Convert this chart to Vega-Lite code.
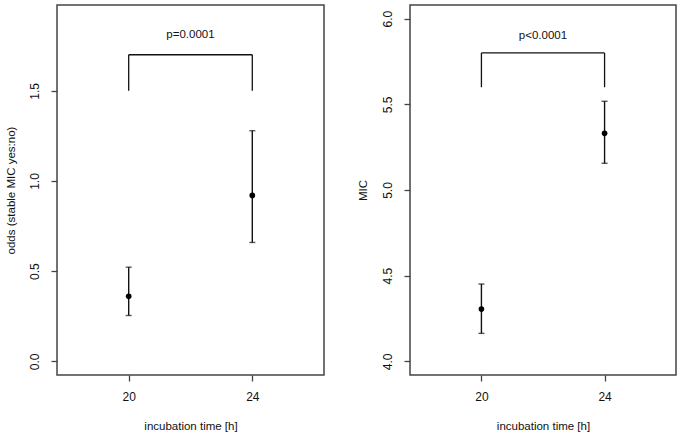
{
  "$schema": "https://vega.github.io/schema/vega-lite/v6.json",
  "padding": {"left": 4, "top": 4, "right": 5, "bottom": 0},
  "background": "white",
  "bounds": "flush",
  "spacing": 86,
  "config": {
    "view": {"stroke": "#444444", "strokeWidth": 1.5},
    "font": "Liberation Sans",
    "axis": {
      "grid": false, "domain": false,
      "labelFont": "Liberation Sans", "labelFontSize": 12, "labelColor": "#111111",
      "titleFont": "Liberation Sans", "titleFontSize": 11.5, "titleFontWeight": "normal", "titleColor": "#111111",
      "tickColor": "#444444", "tickSize": 6, "tickWidth": 1.3
    },
    "axisX": {"labelPadding": 10, "titleY": 54, "titleBaseline": "alphabetic"},
    "axisY": {"labelAngle": -90, "labelAlign": "center", "labelBaseline": "alphabetic", "labelPadding": 12.5, "titleAngle": -90, "titleBaseline": "middle", "titleAlign": "center", "titleY": 185}
  },
  "datasets": {
    "odds": [
      {"time": 20, "est": 0.361, "lo": 0.254, "hi": 0.522},
      {"time": 24, "est": 0.92, "lo": 0.659, "hi": 1.279}
    ],
    "mic": [
      {"time": 20, "est": 4.305, "lo": 4.163, "hi": 4.451},
      {"time": 24, "est": 5.331, "lo": 5.156, "hi": 5.518}
    ],
    "oddsBracket": [
      {"x": 20, "x2": 20, "y": 1.5, "y2": 1.7},
      {"x": 24, "x2": 24, "y": 1.5, "y2": 1.7},
      {"x": 20, "x2": 24, "y": 1.7, "y2": 1.7}
    ],
    "micBracket": [
      {"x": 20, "x2": 20, "y": 5.6, "y2": 5.8},
      {"x": 24, "x2": 24, "y": 5.6, "y2": 5.8},
      {"x": 20, "x2": 24, "y": 5.8, "y2": 5.8}
    ],
    "oddsLabel": [{"x": 22, "y": 1.81, "label": "p=0.0001"}],
    "micLabel": [{"x": 22, "y": 5.9, "label": "p<0.0001"}]
  },
  "hconcat": [
    {
      "width": 267, "height": 370,
      "layer": [
        {
          "data": {"name": "oddsBracket"},
          "mark": {"type": "rule", "color": "#111111", "strokeWidth": 1.3},
          "encoding": {
            "x": {"field": "x", "type": "quantitative", "scale": {"domain": [17.68, 26.32], "nice": false, "zero": false}, "axis": {"values": [20, 24], "title": "incubation time [h]"}},
            "x2": {"field": "x2"},
            "y": {"field": "y", "type": "quantitative", "scale": {"domain": [-0.076, 1.976], "nice": false, "zero": false}, "axis": {"values": [0, 0.5, 1, 1.5], "format": ".1f", "title": "odds (stable MIC yes:no)", "titleX": -46}},
            "y2": {"field": "y2"}
          }
        },
        {
          "data": {"name": "odds"},
          "mark": {"type": "rule", "color": "#111111", "strokeWidth": 1.4},
          "encoding": {
            "x": {"field": "time", "type": "quantitative", "scale": {"domain": [17.68, 26.32], "nice": false, "zero": false}, "axis": {"values": [20, 24], "title": "incubation time [h]"}},
            "y": {"field": "lo", "type": "quantitative", "scale": {"domain": [-0.076, 1.976], "nice": false, "zero": false}, "axis": {"values": [0, 0.5, 1, 1.5], "format": ".1f", "title": "odds (stable MIC yes:no)", "titleX": -46}},
            "y2": {"field": "hi"}
          }
        },
        {
          "data": {"name": "odds"},
          "mark": {"type": "tick", "orient": "horizontal", "color": "#111111", "size": 6, "thickness": 1.4},
          "encoding": {
            "x": {"field": "time", "type": "quantitative", "scale": {"domain": [17.68, 26.32], "nice": false, "zero": false}, "axis": {"values": [20, 24], "title": "incubation time [h]"}},
            "y": {"field": "lo", "type": "quantitative", "scale": {"domain": [-0.076, 1.976], "nice": false, "zero": false}, "axis": {"values": [0, 0.5, 1, 1.5], "format": ".1f", "title": "odds (stable MIC yes:no)", "titleX": -46}}
          }
        },
        {
          "data": {"name": "odds"},
          "mark": {"type": "tick", "orient": "horizontal", "color": "#111111", "size": 6, "thickness": 1.4},
          "encoding": {
            "x": {"field": "time", "type": "quantitative", "scale": {"domain": [17.68, 26.32], "nice": false, "zero": false}, "axis": {"values": [20, 24], "title": "incubation time [h]"}},
            "y": {"field": "hi", "type": "quantitative", "scale": {"domain": [-0.076, 1.976], "nice": false, "zero": false}, "axis": {"values": [0, 0.5, 1, 1.5], "format": ".1f", "title": "odds (stable MIC yes:no)", "titleX": -46}}
          }
        },
        {
          "data": {"name": "odds"},
          "mark": {"type": "circle", "color": "#000000", "size": 32, "opacity": 1},
          "encoding": {
            "x": {"field": "time", "type": "quantitative", "scale": {"domain": [17.68, 26.32], "nice": false, "zero": false}, "axis": {"values": [20, 24], "title": "incubation time [h]"}},
            "y": {"field": "est", "type": "quantitative", "scale": {"domain": [-0.076, 1.976], "nice": false, "zero": false}, "axis": {"values": [0, 0.5, 1, 1.5], "format": ".1f", "title": "odds (stable MIC yes:no)", "titleX": -46}}
          }
        },
        {
          "data": {"name": "oddsLabel"},
          "mark": {"type": "text", "font": "Liberation Sans", "fontSize": 11.5, "color": "#111111", "baseline": "middle", "align": "center"},
          "encoding": {
            "x": {"field": "x", "type": "quantitative", "scale": {"domain": [17.68, 26.32], "nice": false, "zero": false}, "axis": {"values": [20, 24], "title": "incubation time [h]"}},
            "y": {"field": "y", "type": "quantitative", "scale": {"domain": [-0.076, 1.976], "nice": false, "zero": false}, "axis": {"values": [0, 0.5, 1, 1.5], "format": ".1f", "title": "odds (stable MIC yes:no)", "titleX": -46}},
            "text": {"field": "label"}
          }
        }
      ]
    },
    {
      "width": 266, "height": 370,
      "layer": [
        {
          "data": {"name": "micBracket"},
          "mark": {"type": "rule", "color": "#111111", "strokeWidth": 1.3},
          "encoding": {
            "x": {"field": "x", "type": "quantitative", "scale": {"domain": [17.68, 26.32], "nice": false, "zero": false}, "axis": {"values": [20, 24], "title": "incubation time [h]"}},
            "x2": {"field": "x2"},
            "y": {"field": "y", "type": "quantitative", "scale": {"domain": [3.92, 6.08], "nice": false, "zero": false}, "axis": {"values": [4, 4.5, 5, 5.5, 6], "format": ".1f", "title": "MIC", "titleX": -47}},
            "y2": {"field": "y2"}
          }
        },
        {
          "data": {"name": "mic"},
          "mark": {"type": "rule", "color": "#111111", "strokeWidth": 1.4},
          "encoding": {
            "x": {"field": "time", "type": "quantitative", "scale": {"domain": [17.68, 26.32], "nice": false, "zero": false}, "axis": {"values": [20, 24], "title": "incubation time [h]"}},
            "y": {"field": "lo", "type": "quantitative", "scale": {"domain": [3.92, 6.08], "nice": false, "zero": false}, "axis": {"values": [4, 4.5, 5, 5.5, 6], "format": ".1f", "title": "MIC", "titleX": -47}},
            "y2": {"field": "hi"}
          }
        },
        {
          "data": {"name": "mic"},
          "mark": {"type": "tick", "orient": "horizontal", "color": "#111111", "size": 6, "thickness": 1.4},
          "encoding": {
            "x": {"field": "time", "type": "quantitative", "scale": {"domain": [17.68, 26.32], "nice": false, "zero": false}, "axis": {"values": [20, 24], "title": "incubation time [h]"}},
            "y": {"field": "lo", "type": "quantitative", "scale": {"domain": [3.92, 6.08], "nice": false, "zero": false}, "axis": {"values": [4, 4.5, 5, 5.5, 6], "format": ".1f", "title": "MIC", "titleX": -47}}
          }
        },
        {
          "data": {"name": "mic"},
          "mark": {"type": "tick", "orient": "horizontal", "color": "#111111", "size": 6, "thickness": 1.4},
          "encoding": {
            "x": {"field": "time", "type": "quantitative", "scale": {"domain": [17.68, 26.32], "nice": false, "zero": false}, "axis": {"values": [20, 24], "title": "incubation time [h]"}},
            "y": {"field": "hi", "type": "quantitative", "scale": {"domain": [3.92, 6.08], "nice": false, "zero": false}, "axis": {"values": [4, 4.5, 5, 5.5, 6], "format": ".1f", "title": "MIC", "titleX": -47}}
          }
        },
        {
          "data": {"name": "mic"},
          "mark": {"type": "circle", "color": "#000000", "size": 32, "opacity": 1},
          "encoding": {
            "x": {"field": "time", "type": "quantitative", "scale": {"domain": [17.68, 26.32], "nice": false, "zero": false}, "axis": {"values": [20, 24], "title": "incubation time [h]"}},
            "y": {"field": "est", "type": "quantitative", "scale": {"domain": [3.92, 6.08], "nice": false, "zero": false}, "axis": {"values": [4, 4.5, 5, 5.5, 6], "format": ".1f", "title": "MIC", "titleX": -47}}
          }
        },
        {
          "data": {"name": "micLabel"},
          "mark": {"type": "text", "font": "Liberation Sans", "fontSize": 11.5, "color": "#111111", "baseline": "middle", "align": "center"},
          "encoding": {
            "x": {"field": "x", "type": "quantitative", "scale": {"domain": [17.68, 26.32], "nice": false, "zero": false}, "axis": {"values": [20, 24], "title": "incubation time [h]"}},
            "y": {"field": "y", "type": "quantitative", "scale": {"domain": [3.92, 6.08], "nice": false, "zero": false}, "axis": {"values": [4, 4.5, 5, 5.5, 6], "format": ".1f", "title": "MIC", "titleX": -47}},
            "text": {"field": "label"}
          }
        }
      ]
    }
  ]
}
